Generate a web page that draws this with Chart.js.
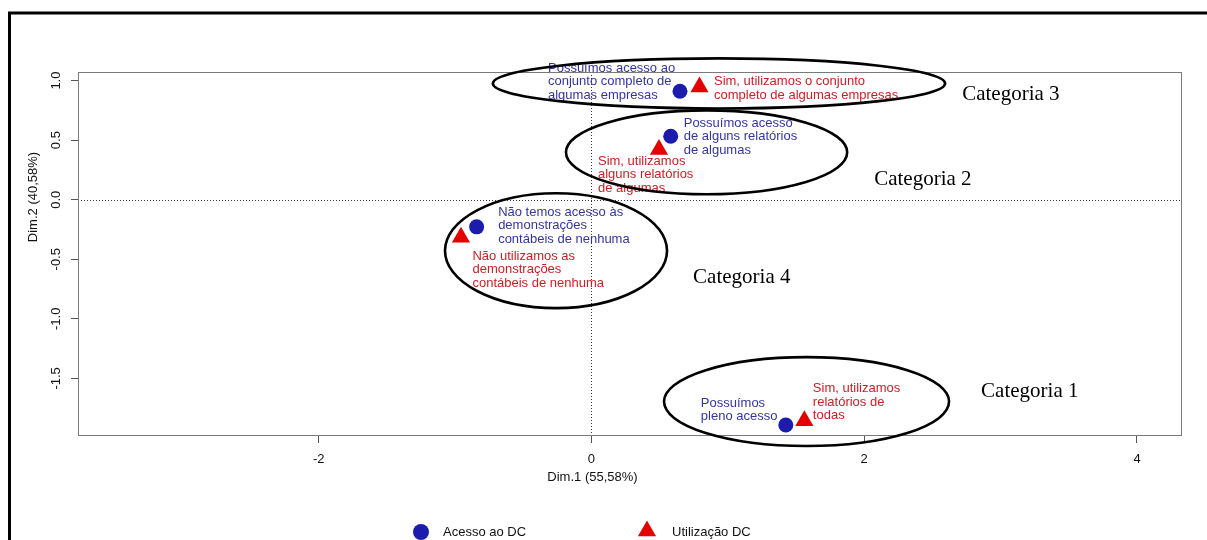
<!DOCTYPE html>
<html>
<head>
<meta charset="utf-8">
<script src="https://cdn.jsdelivr.net/npm/chart.js@4/dist/chart.umd.min.js"></script>
<style>
  html, body { margin: 0; padding: 0; background: #fff; }
  #wrap { position: relative; width: 1207px; height: 540px; }
  canvas { display: block; }
</style>
</head>
<body>
<div id="wrap"><canvas id="ca" width="1207" height="540"></canvas></div>
<script>
// Correspondence analysis map: "Acesso ao DC" x "Utilização DC"

// Row categories: Acesso ao DC
const acessoNames = [
  ['Possuímos acesso ao', 'conjunto completo de', 'algumas empresas'],
  ['Possuímos acesso', 'de alguns relatórios', 'de algumas'],
  ['Não temos acesso às', 'demonstrações', 'contábeis de nenhuma'],
  ['Possuímos', 'pleno acesso']
];
const acessoDim1 = [0.649, 0.581, -0.842, 1.425];
const acessoDim2 = [0.910, 0.533, -0.228, -1.892];

// Column categories: Utilização DC
const utilizacaoNames = [
  ['Sim, utilizamos o conjunto', 'completo de algumas empresas'],
  ['Sim, utilizamos', 'alguns relatórios', 'de algumas'],
  ['Não utilizamos as', 'demonstrações', 'contábeis de nenhuma'],
  ['Sim, utilizamos', 'relatórios de', 'todas']
];
const utilizacaoDim1 = [0.792, 0.495, -0.957, 1.561];
const utilizacaoDim2 = [0.947, 0.421, -0.315, -1.856];

// Axis ticks
const xTickValues = [-2, 0, 2, 4];
const yTickValues = [-1.5, -1.0, -0.5, 0.0, 0.5, 1.0];

// Groups of associated categories
const groupNames = ['Categoria 3', 'Categoria 2', 'Categoria 4', 'Categoria 1'];

// ---- layout (data units for shapes, pixels for label offsets) ----
const groupEllipses = [
  { cx: 0.935, cy: 0.976, rx: 1.658, ry: 0.210 },
  { cx: 0.844, cy: 0.398, rx: 1.031, ry: 0.352 },
  { cx: -0.260, cy: -0.428, rx: 0.814, ry: 0.482 },
  { cx: 1.577, cy: -1.695, rx: 1.045, ry: 0.373 }
];
const groupLabelAnchors = [
  { x: 2.718, y: 0.885 },
  { x: 2.073, y: 0.172 },
  { x: 0.745, y: -0.650 },
  { x: 2.857, y: -1.607 }
];
const acessoLabelOffsets = [
  { dx: -132, dy: -23 }, { dx: 13, dy: -13 }, { dx: 21.5, dy: -14.5 }, { dx: -85, dy: -22 }
];
const utilizacaoLabelOffsets = [
  { dx: 14.5, dy: -5 }, { dx: -61, dy: 11.5 }, { dx: 11.5, dy: 19 }, { dx: 8.5, dy: -32 }
];

const BLUE = 'rgb(28,28,172)';
const RED = 'rgb(228,0,0)';
const BLUE_TEXT = 'rgb(52,52,158)';
const RED_TEXT = 'rgb(200,32,40)';
const SANS = '"Liberation Sans", Arial, sans-serif';
const SERIF = '"Liberation Serif", "Times New Roman", serif';

const toPoints = (xs, ys) => xs.map((x, i) => ({ x: x, y: ys[i] }));

function drawMarker(ctx, style, color, x, y, r) {
  ctx.save();
  ctx.fillStyle = color;
  ctx.beginPath();
  if (style === 'triangle') {
    let a = 0;
    ctx.moveTo(x + Math.sin(a) * r, y - Math.cos(a) * r);
    a += Math.PI * 2 / 3;
    ctx.lineTo(x + Math.sin(a) * r, y - Math.cos(a) * r);
    a += Math.PI * 2 / 3;
    ctx.lineTo(x + Math.sin(a) * r, y - Math.cos(a) * r);
    ctx.closePath();
  } else {
    ctx.arc(x, y, r, 0, Math.PI * 2);
  }
  ctx.fill();
  ctx.restore();
}

const mapDecor = {
  id: 'mapDecor',
  beforeDraw(chart) {
    const { ctx } = chart;
    ctx.save();
    ctx.fillStyle = '#fff';
    ctx.fillRect(0, 0, chart.width, chart.height);
    // outer frame (left and top edges)
    ctx.strokeStyle = '#000';
    ctx.lineWidth = 3;
    ctx.beginPath();
    ctx.moveTo(9.5, chart.height);
    ctx.lineTo(9.5, 13);
    ctx.lineTo(chart.width, 13);
    ctx.stroke();
    ctx.restore();
  },
  beforeDatasetsDraw(chart) {
    const { ctx, chartArea: a, scales: { x, y } } = chart;
    ctx.save();
    // dotted reference lines through the origin
    ctx.strokeStyle = '#3a3a3a';
    ctx.lineWidth = 1;
    ctx.setLineDash([1, 2]);
    const x0 = Math.round(x.getPixelForValue(0)) + 0.5;
    const y0 = Math.round(y.getPixelForValue(0)) + 0.5;
    ctx.beginPath();
    ctx.moveTo(x0, a.top); ctx.lineTo(x0, a.bottom);
    ctx.moveTo(a.left, y0); ctx.lineTo(a.right, y0);
    ctx.stroke();
    ctx.setLineDash([]);
    // plot box
    ctx.strokeStyle = '#7a7a7a';
    ctx.strokeRect(Math.round(a.left) + 0.5, Math.round(a.top) + 0.5,
                   Math.round(a.right - a.left) - 1, Math.round(a.bottom - a.top) - 1);
    ctx.restore();
  },
  afterDatasetsDraw(chart) {
    const { ctx, scales: { x, y } } = chart;
    ctx.save();
    // point labels
    ctx.font = '13px ' + SANS;
    ctx.textAlign = 'left';
    ctx.textBaseline = 'middle';
    const lineH = 13.5;
    const writeLabels = (names, xs, ys, offs, color) => {
      ctx.fillStyle = color;
      names.forEach((lines, i) => {
        const px = x.getPixelForValue(xs[i]) + offs[i].dx;
        const py = y.getPixelForValue(ys[i]) + offs[i].dy;
        lines.forEach((t, k) => ctx.fillText(t, px, py + k * lineH));
      });
    };
    writeLabels(acessoNames, acessoDim1, acessoDim2, acessoLabelOffsets, BLUE_TEXT);
    writeLabels(utilizacaoNames, utilizacaoDim1, utilizacaoDim2, utilizacaoLabelOffsets, RED_TEXT);

    // group ellipses
    ctx.strokeStyle = '#000';
    ctx.lineWidth = 2.6;
    groupEllipses.forEach(e => {
      const cx = x.getPixelForValue(e.cx), cy = y.getPixelForValue(e.cy);
      const rx = Math.abs(x.getPixelForValue(e.cx + e.rx) - cx);
      const ry = Math.abs(y.getPixelForValue(e.cy + e.ry) - cy);
      ctx.beginPath();
      ctx.ellipse(cx, cy, rx, ry, 0, 0, Math.PI * 2);
      ctx.stroke();
    });

    // group names
    ctx.fillStyle = '#000';
    ctx.font = '21px ' + SERIF;
    groupNames.forEach((n, i) => {
      ctx.fillText(n, x.getPixelForValue(groupLabelAnchors[i].x), y.getPixelForValue(groupLabelAnchors[i].y));
    });

    // y tick labels, rotated like the axis title
    ctx.fillStyle = '#111';
    ctx.font = '13px ' + SANS;
    ctx.textAlign = 'center';
    yTickValues.forEach(v => {
      ctx.save();
      ctx.translate(56, y.getPixelForValue(v));
      ctx.rotate(-Math.PI / 2);
      ctx.fillText(v.toFixed(1), 0, 0);
      ctx.restore();
    });

    // axis titles
    ctx.fillText('Dim.1 (55,58%)', x.getPixelForValue(0) + 1, 477);
    ctx.save();
    ctx.translate(33, 197);
    ctx.rotate(-Math.PI / 2);
    ctx.fillText('Dim.2 (40,58%)', 0, 0);
    ctx.restore();

    // legend
    const legendX = [421, 647];
    const legendTextX = [443, 672];
    ctx.textAlign = 'left';
    chart.data.datasets.forEach((d, i) => {
      const tri = d.pointStyle === 'triangle';
      drawMarker(ctx, d.pointStyle, d.backgroundColor, legendX[i], tri ? 531 : 532, tri ? 10.5 : 8);
      ctx.fillStyle = '#111';
      ctx.fillText(d.label, legendTextX[i], 532);
    });
    ctx.restore();
  }
};

new Chart(document.getElementById('ca'), {
  type: 'scatter',
  data: {
    datasets: [
      {
        label: 'Acesso ao DC',
        data: toPoints(acessoDim1, acessoDim2),
        pointStyle: 'circle',
        pointRadius: 7.5,
        backgroundColor: BLUE,
        borderWidth: 0
      },
      {
        label: 'Utilização DC',
        data: toPoints(utilizacaoDim1, utilizacaoDim2),
        pointStyle: 'triangle',
        pointRadius: 10.5,
        backgroundColor: RED,
        borderWidth: 0
      }
    ]
  },
  options: {
    responsive: false,
    animation: false,
    devicePixelRatio: 1,
    clip: false,
    layout: { padding: { left: 0, right: 25, top: 72, bottom: 64 } },
    plugins: { legend: { display: false }, tooltip: { enabled: false } },
    scales: {
      x: {
        type: 'linear',
        min: -3.765,
        max: 4.33,
        afterBuildTicks: s => { s.ticks = xTickValues.map(v => ({ value: v })); },
        afterFit: s => { s.height = 40; },
        grid: { display: true, drawOnChartArea: false, drawTicks: true, tickLength: 7, color: '#555' },
        border: { display: false },
        ticks: {
          padding: 9,
          color: '#111',
          font: { family: SANS, size: 13 },
          maxRotation: 0,
          callback: v => String(v)
        }
      },
      y: {
        type: 'linear',
        min: -1.984,
        max: 1.072,
        afterBuildTicks: s => { s.ticks = yTickValues.map(v => ({ value: v })); },
        afterFit: s => { s.width = 78; },
        grid: { display: true, drawOnChartArea: false, drawTicks: true, tickLength: 7, color: '#555' },
        border: { display: false },
        ticks: { display: false }
      }
    }
  },
  plugins: [mapDecor]
});
</script>
</body>
</html>
